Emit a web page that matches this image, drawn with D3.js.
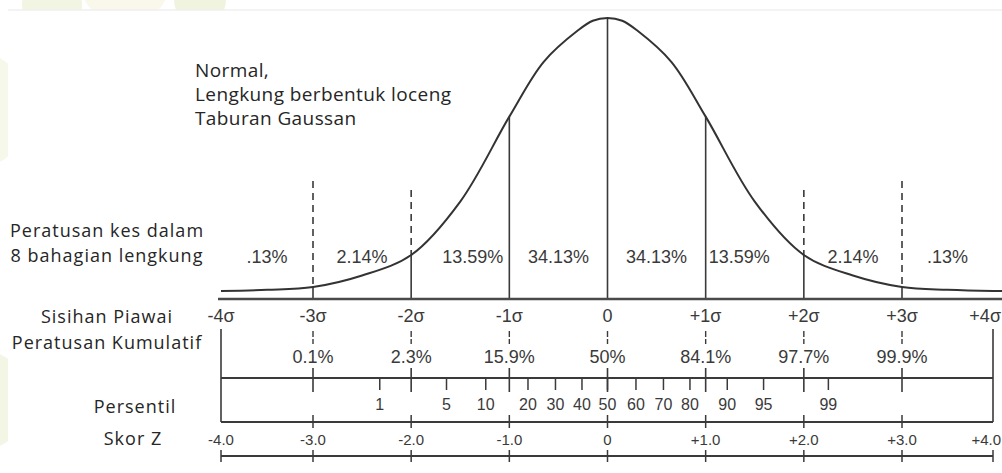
<!DOCTYPE html>
<html>
<head>
<meta charset="utf-8">
<script src="https://cdn.jsdelivr.net/npm/d3@7"></script>
<style>
  html, body { margin: 0; padding: 0; background: #fff; }
  svg { display: block; }
  .lbl { font-family: "Open Sans", sans-serif; fill: #262626; }
  .num { font-family: "Liberation Sans", Arial, sans-serif; fill: #3a3a3a; }
</style>
</head>
<body>
<div id="chart"></div>
<script>
// sigma positions and their labels
var sigmaZ = [-4, -3, -2, -1, 0, 1, 2, 3, 4];
var sigmaLabels = ["-4\u03c3", "-3\u03c3", "-2\u03c3", "-1\u03c3", "0", "+1\u03c3", "+2\u03c3", "+3\u03c3", "+4\u03c3"];
// percent of cases in each of the 8 bands
var bandPercents = [".13%", "2.14%", "13.59%", "34.13%", "34.13%", "13.59%", "2.14%", ".13%"];
// cumulative percentages
var cumZ = [-3, -2, -1, 0, 1, 2, 3];
var cumLabels = ["0.1%", "2.3%", "15.9%", "50%", "84.1%", "97.7%", "99.9%"];
// percentiles (z value)
var pctlValues = [1, 5, 10, 20, 30, 40, 50, 60, 70, 80, 90, 95, 99];
var pctlZ = [-2.32, -1.64, -1.24, -0.81, -0.53, -0.26, 0, 0.29, 0.57, 0.84, 1.22, 1.59, 2.25];
// z scores
var zScoreLabels = ["-4.0", "-3.0", "-2.0", "-1.0", "0", "+1.0", "+2.0", "+3.0", "+4.0"];
// bell curve, relative height (peak = 1)
var curveZ = [-4, -3.5, -3, -2.5, -2, -1.5, -1, -0.65, -0.3, -0.15, 0, 0.15, 0.3, 0.65, 1, 1.5, 2, 2.5, 3, 3.5, 4, 4.1];
var curveH = [0.004, 0.008, 0.018, 0.06, 0.135, 0.33, 0.64, 0.84, 0.955, 0.99, 1, 0.99, 0.955, 0.84, 0.64, 0.33, 0.135, 0.06, 0.018, 0.008, 0.004, 0.004];

var width = 1002, height = 473;
var ink = "#3a3a3a";

var svg = d3.select("#chart").append("svg")
    .attr("width", width).attr("height", height);

// faint page decorations behind the card
var deco = svg.append("g");
deco.append("circle").attr("cx", 52).attr("cy", 5).attr("r", 30).attr("fill", "#f1f5e2");
deco.append("circle").attr("cx", 125).attr("cy", -20).attr("r", 45).attr("fill", "#f9f8ea");
deco.append("circle").attr("cx", 200).attr("cy", 0).attr("r", 26).attr("fill", "#f0f4df");
deco.append("circle").attr("cx", -30).attr("cy", 110).attr("r", 60).attr("fill", "#f6f8ea");
deco.append("circle").attr("cx", -20).attr("cy", 400).attr("r", 50).attr("fill", "#f3f6e4");

svg.append("rect").attr("x", 8).attr("y", 10).attr("width", width - 8).attr("height", height - 10)
    .attr("fill", "#fff");
svg.append("line").attr("x1", 8).attr("x2", width).attr("y1", 10).attr("y2", 10)
    .attr("stroke", "#efefef").attr("stroke-width", 1.5);

var x = d3.scaleLinear().domain([-4, -3, 3, 4]).range([221, 313, 902, 993]);
var y = d3.scaleLinear().domain([0, 1]).range([292, 18]);
var axisY = 299;

function hAt(z) { return curveH[curveZ.indexOf(z)]; }

// keep edge labels inside the picture
function labelX(i, n) { return i === n - 1 ? width - 1 : x(sigmaZ[i]); }
function labelAnchor(i, n) { return i === n - 1 ? "end" : "middle"; }

var g = svg.append("g");

// vertical division lines
[-3, -2, 2, 3].forEach(function(z) {
    var top = Math.abs(z) === 3 ? 181 : 190;
    g.append("line").attr("x1", x(z)).attr("x2", x(z)).attr("y1", top).attr("y2", y(hAt(z)))
        .attr("stroke", ink).attr("stroke-width", 1.6).attr("stroke-dasharray", "7,5");
});
[-3, -2, -1, 0, 1, 2, 3].forEach(function(z) {
    g.append("line").attr("x1", x(z)).attr("x2", x(z)).attr("y1", y(hAt(z))).attr("y2", axisY)
        .attr("stroke", ink).attr("stroke-width", 1.6);
});

// bell curve
var line = d3.line()
    .x(function(d, i) { return x(curveZ[i]); })
    .y(function(d) { return y(d); })
    .curve(d3.curveCatmullRom.alpha(0.5));
g.append("path").attr("d", line(curveH))
    .attr("fill", "none").attr("stroke", "#333").attr("stroke-width", 2);

// main axis
g.append("line").attr("x1", x(-4) - 3).attr("x2", width).attr("y1", axisY).attr("y2", axisY)
    .attr("stroke", "#4a4a4a").attr("stroke-width", 2.4);

// band percentages
bandPercents.forEach(function(t, i) {
    var zl = sigmaZ[i], zr = sigmaZ[i + 1];
    var tx = x((zl + zr) / 2), anchor = "middle";
    if (i === 2) { tx = x(-1) - 6; anchor = "end"; }
    if (i === 5) { tx = x(1) + 3; anchor = "start"; }
    g.append("text").attr("class", "num").attr("x", tx).attr("y", 263)
        .attr("text-anchor", anchor).attr("font-size", 18).text(t);
});

// sigma labels
g.selectAll(".sig").data(sigmaLabels).enter().append("text")
    .attr("class", "num")
    .attr("x", function(d, i) { return labelX(i, sigmaLabels.length); })
    .attr("text-anchor", function(d, i) { return labelAnchor(i, sigmaLabels.length); })
    .attr("y", 322).attr("font-size", 18).text(function(d) { return d; });

// frame sides
[-4, 4].forEach(function(z) {
    g.append("line").attr("x1", x(z)).attr("x2", x(z)).attr("y1", 329).attr("y2", 422)
        .attr("stroke", ink).attr("stroke-width", 1.6);
});

// cumulative row
cumZ.forEach(function(z, i) {
    g.append("line").attr("x1", x(z)).attr("x2", x(z)).attr("y1", 331).attr("y2", 344)
        .attr("stroke", ink).attr("stroke-width", 1.4).attr("stroke-dasharray", "6,2");
    g.append("text").attr("class", "num").attr("x", x(z)).attr("y", 363)
        .attr("text-anchor", "middle").attr("font-size", 18).text(cumLabels[i]);
    g.append("line").attr("x1", x(z)).attr("x2", x(z)).attr("y1", 368).attr("y2", 392)
        .attr("stroke", ink).attr("stroke-width", 1.6);
});

// percentile row
g.append("line").attr("x1", x(-4)).attr("x2", x(4)).attr("y1", 378).attr("y2", 378)
    .attr("stroke", ink).attr("stroke-width", 1.8);
pctlZ.forEach(function(z, i) {
    g.append("line").attr("x1", x(z)).attr("x2", x(z)).attr("y1", 378).attr("y2", 390)
        .attr("stroke", ink).attr("stroke-width", 1.5);
    g.append("text").attr("class", "num").attr("x", x(z)).attr("y", 410)
        .attr("text-anchor", "middle").attr("font-size", 16).text(pctlValues[i]);
});

// z score row
g.append("line").attr("x1", x(-4)).attr("x2", x(4)).attr("y1", 422).attr("y2", 422)
    .attr("stroke", ink).attr("stroke-width", 1.8);
g.append("line").attr("x1", x(-4)).attr("x2", x(4)).attr("y1", 456).attr("y2", 456)
    .attr("stroke", ink).attr("stroke-width", 1.8);
sigmaZ.forEach(function(z, i) {
    if (z > -4 && z < 4) {
        g.append("line").attr("x1", x(z)).attr("x2", x(z)).attr("y1", 415).attr("y2", 428)
            .attr("stroke", ink).attr("stroke-width", 1.5);
    }
    g.append("line").attr("x1", x(z)).attr("x2", x(z)).attr("y1", 450).attr("y2", 462)
        .attr("stroke", ink).attr("stroke-width", 1.5);
    g.append("text").attr("class", "num")
        .attr("x", labelX(i, zScoreLabels.length))
        .attr("text-anchor", labelAnchor(i, zScoreLabels.length))
        .attr("y", 445).attr("font-size", 15).text(zScoreLabels[i]);
});

// text labels
var titleLines = ["Normal,", "Lengkung berbentuk loceng", "Taburan Gaussan"];
titleLines.forEach(function(t, i) {
    g.append("text").attr("class", "lbl").attr("x", 195).attr("y", 77 + i * 24)
        .attr("font-size", 19).attr("letter-spacing", 0.4).text(t);
});

var rowLabels = [
    { t: "Peratusan kes dalam", y: 237, cx: 107 },
    { t: "8 bahagian lengkung", y: 262, cx: 107 },
    { t: "Sisihan Piawai", y: 323, cx: 107 },
    { t: "Peratusan Kumulatif", y: 349, cx: 107 },
    { t: "Persentil", y: 413, cx: 135 },
    { t: "Skor Z", y: 445, cx: 133 }
];
rowLabels.forEach(function(r) {
    g.append("text").attr("class", "lbl").attr("x", r.cx).attr("y", r.y)
        .attr("text-anchor", "middle").attr("font-size", 18).attr("letter-spacing", 1).text(r.t);
});
</script>
</body>
</html>
